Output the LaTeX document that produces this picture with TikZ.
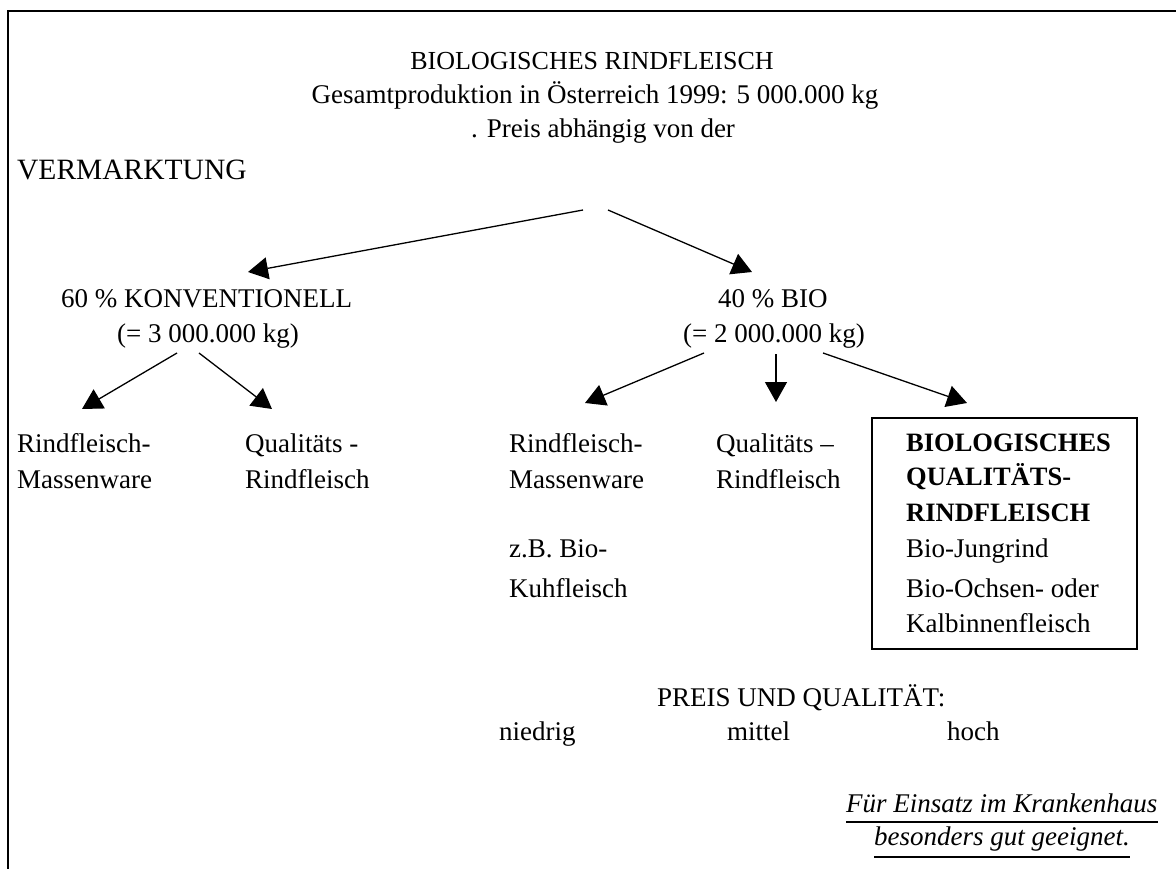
\documentclass[tikz,border=0pt]{standalone}
\usepackage{fontspec}
\setmainfont{Liberation Serif}
\usetikzlibrary{arrows.meta}
\begin{document}
\begin{tikzpicture}[x=1pt,y=-1pt,
  txt/.style={inner sep=0pt,anchor=base west,font=\fontsize{27}{32}\selectfont},
  ctxt/.style={inner sep=0pt,anchor=base,font=\fontsize{27}{32}\selectfont},
  bigtxt/.style={inner sep=0pt,anchor=base west,font=\fontsize{29.5}{34}\selectfont},
  btxt/.style={inner sep=0pt,anchor=base west,font=\bfseries\fontsize{26.5}{32}\selectfont},
  itxt/.style={inner sep=0pt,anchor=base west,font=\itshape\fontsize{27}{32}\selectfont},
  arr/.style={line width=1.3pt,-{Triangle[length=20pt,width=22pt]}},
  frame/.style={line width=2pt},
  uline/.style={line width=1.3pt},
  boxst/.style={draw,line width=1.3pt,minimum width=265pt,minimum height=231pt,inner sep=0pt}
]
\useasboundingbox (0,0) rectangle (1176,869);
% frame
\coordinate (fa) at (8,869);
\coordinate (fb) at (8,11);
\coordinate (fc) at (1176,11);
\draw[frame] (fa) -- (fb) -- (fc);

% header
\node[ctxt,font=\fontsize{26}{32}\selectfont] (h1) at (592,70) {BIOLOGISCHES RINDFLEISCH};
\node[ctxt] (h2) at (595,104) {Gesamtproduktion in Österreich 1999: 5 000.000 kg};
\node[ctxt] (h3) at (603,138) {. Preis abhängig von der};
\node[bigtxt] (verm) at (17,180) {VERMARKTUNG};

% level 1
\node[txt] (konv1) at (61,307) {60 \% KONVENTIONELL};
\node[txt] (konv2) at (117,342) {(= 3 000.000 kg)};
\node[txt] (bio1) at (718,307) {40 \% BIO};
\node[txt] (bio2) at (683,342) {(= 2 000.000 kg)};

% level 2 left
\node[txt] (lm1) at (17,452) {Rindfleisch-};
\node[txt] (lm2) at (17,488) {Massenware};
\node[txt] (lq1) at (245,452) {Qualitäts -};
\node[txt] (lq2) at (245,488) {Rindfleisch};

% level 2 right
\node[txt] (rm1) at (509,452) {Rindfleisch-};
\node[txt] (rm2) at (509,488) {Massenware};
\node[txt] (rz1) at (509,557) {z.B. Bio-};
\node[txt] (rz2) at (509,597) {Kuhfleisch};
\node[txt] (rq1) at (716,452) {Qualitäts –};
\node[txt] (rq2) at (716,488) {Rindfleisch};

% box
\node[boxst] (qbox) at (1004.5,533.5) {};
\node[btxt] (b1) at (906,451) {BIOLOGISCHES};
\node[btxt] (b2) at (906,485) {QUALITÄTS-};
\node[btxt] (b3) at (906,521) {RINDFLEISCH};
\node[txt] (b4) at (906,557) {Bio-Jungrind};
\node[txt] (b5) at (906,597) {Bio-Ochsen- oder};
\node[txt] (b6) at (906,632) {Kalbinnenfleisch};

% price
\node[txt] (preis) at (657,706) {PREIS UND QUALITÄT:};
\node[txt] (nied) at (499,740) {niedrig};
\node[txt] (mitt) at (727,740) {mittel};
\node[txt] (hoch) at (947,740) {hoch};

% footer
\node[itxt] (f1) at (846,812) {Für Einsatz im Krankenhaus};
\node[itxt] (f2) at (874,845) {besonders gut geeignet.};
\draw[uline] ([yshift=-10pt]f1.base west) -- ([yshift=-10pt]f1.base east);
\draw[uline] ([yshift=-12pt]f2.base west) -- ([yshift=-12pt]f2.base east);

% arrows
\coordinate (a1s) at (583,210);
\coordinate (a1t) at (248,272);
\coordinate (a2s) at (608,210);
\coordinate (a2t) at (752,272);
\draw[arr] (a1s) -- (a1t);
\draw[arr] (a2s) -- (a2t);

\coordinate (a3s) at (177,353);
\coordinate (a3t) at (82,409);
\coordinate (a4s) at (199,353);
\coordinate (a4t) at (272,409);
\draw[arr] (a3s) -- (a3t);
\draw[arr] (a4s) -- (a4t);

\coordinate (a5s) at (704,353);
\coordinate (a5t) at (585,403);
\coordinate (a6s) at (776,354);
\coordinate (a6t) at (776,402);
\coordinate (a7s) at (823,353);
\coordinate (a7t) at (967,403);
\draw[arr] (a5s) -- (a5t);
\draw[arr] (a6s) -- (a6t);
\draw[arr] (a7s) -- (a7t);
\end{tikzpicture}
\end{document}
